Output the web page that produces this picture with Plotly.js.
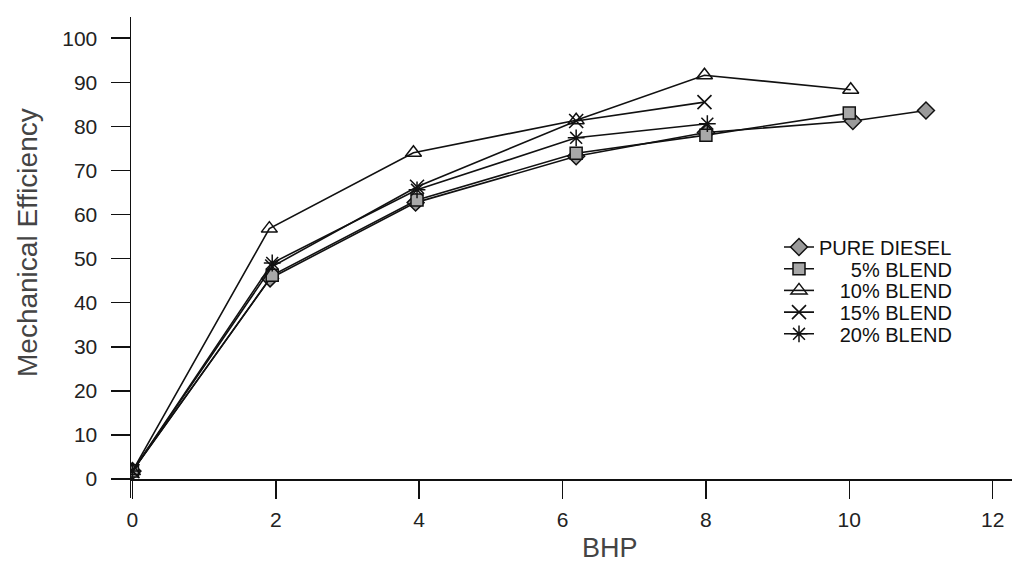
<!DOCTYPE html>
<html>
<head>
<meta charset="utf-8">
<script src="https://cdn.plot.ly/plotly-3.0.1.min.js"></script>
<style>
html,body{margin:0;padding:0;background:#fff;}
#chart{width:1016px;height:564px;}
</style>
</head>
<body>
<div id="chart"></div>
<script>
// ---- data ----
const seriesNames = ["PURE DIESEL", "5% BLEND", "10% BLEND", "15% BLEND", "20% BLEND"];
const legendLabels = ["PURE DIESEL",
  "\u00a0\u00a0\u00a0\u00a0\u00a0\u20095% BLEND",
  "\u00a0\u00a0\u00a0\u200910% BLEND",
  "\u00a0\u00a0\u00a0\u200915% BLEND",
  "\u00a0\u00a0\u00a0\u200920% BLEND"];

const bhpDiesel = [0, 1.92, 3.95, 6.19, 8.0, 10.05, 11.07];
const effDiesel = [1.8, 45.5, 62.7, 73.2, 78.6, 81.2, 83.6];

const bhp5 = [0, 1.95, 3.97, 6.19, 8.0, 10.0];
const eff5 = [1.8, 46.2, 63.3, 73.9, 78.0, 83.0];

const bhp10 = [0, 1.91, 3.92, 6.19, 7.98, 10.02];
const eff10 = [1.8, 56.8, 74.0, 81.4, 91.6, 88.3];

const bhp15 = [0, 1.95, 3.97, 6.19, 7.98];
const eff15 = [1.8, 48.2, 66.3, 81.2, 85.5];

const bhp20 = [0, 1.95, 3.97, 6.19, 8.02];
const eff20 = [1.8, 49.0, 65.6, 77.4, 80.6];

const xTicks = [0, 2, 4, 6, 8, 10, 12];
const yTicks = [0, 10, 20, 30, 40, 50, 60, 70, 80, 90, 100];

// ---- styles ----
const xs = [bhpDiesel, bhp5, bhp10, bhp15, bhp20];
const ys = [effDiesel, eff5, eff10, eff15, eff20];
const markers = [
  {symbol: 'diamond', size: 13, color: '#9a9a9a', line: {color: '#111', width: 1.5}},
  {symbol: 'square', size: 12, color: '#a8a8a8', line: {color: '#111', width: 1.5}},
  {symbol: 'triangle-up-open', size: 14, color: '#111', line: {color: '#111', width: 1.5}},
  {symbol: 'x-thin-open', size: 14, color: '#111', line: {color: '#111', width: 1.6}},
  {symbol: 'asterisk-open', size: 14, color: '#111', line: {color: '#111', width: 1.5}}
];
const legendIds = ['legend', 'legend2', 'legend3', 'legend4', 'legend5'];

const traces = seriesNames.map((n, i) => ({
  x: xs[i], y: ys[i],
  name: legendLabels[i],
  type: 'scatter', mode: 'lines+markers',
  line: {color: '#111', width: 1.6},
  marker: markers[i],
  legend: legendIds[i]
}));

const plotTop = 17, plotBottom = 498, plotLeft = 131, plotRight = 1012;
const rowY = [247, 268.7, 290.4, 312.1, 333.8];
const layout = {
  width: 1016, height: 564,
  margin: {l: plotLeft, r: 1016 - plotRight, t: plotTop, b: 564 - plotBottom},
  paper_bgcolor: '#fff', plot_bgcolor: '#fff',
  font: {family: 'Liberation Sans, Arial, sans-serif', color: '#222'},
  showlegend: true,
  xaxis: {
    range: [-0.02, 12.27],
    tickvals: xTicks, ticktext: xTicks.map(String),
    ticks: 'outside', ticklen: 18, tickwidth: 1.5, tickcolor: '#111',
    showline: true, linecolor: '#111', linewidth: 1.5,
    showgrid: false, zeroline: false,
    anchor: 'free', position: 4.3 / 109.1,
    tickfont: {size: 21, color: '#222'},
    ticklabelstandoff: 3
  },
  yaxis: {
    range: [-4.3, 104.8],
    tickvals: yTicks, ticktext: yTicks.map(String),
    ticks: 'outside', ticklen: 19, tickwidth: 1.5, tickcolor: '#111',
    showline: true, linecolor: '#111', linewidth: 1.5,
    showgrid: false, zeroline: false,
    tickfont: {size: 21, color: '#222'},
    ticklabelstandoff: 9
  },
  annotations: [
    {text: 'Mechanical Efficiency', xref: 'paper', yref: 'paper',
     x: (27 - plotLeft) / (plotRight - plotLeft), y: (plotBottom - 243) / (plotBottom - plotTop),
     xanchor: 'center', yanchor: 'middle', textangle: -90, showarrow: false,
     font: {size: 28, color: '#444'}},
    {text: 'BHP', xref: 'paper', yref: 'paper',
     x: (610 - plotLeft) / (plotRight - plotLeft), y: (plotBottom - 531) / (plotBottom - plotTop),
     xanchor: 'center', yanchor: 'top', showarrow: false,
     font: {size: 27, color: '#444'}}
  ]
};
legendIds.forEach((id, i) => {
  layout[id] = {
    x: (779 - plotLeft) / (plotRight - plotLeft),
    y: (plotBottom - rowY[i]) / (plotBottom - plotTop),
    xanchor: 'left', yanchor: 'middle',
    bgcolor: 'rgba(0,0,0,0)', borderwidth: 0,
    font: {size: 20, color: '#111'},
    itemwidth: 30
  };
});

Plotly.newPlot('chart', traces, layout, {displayModeBar: false, staticPlot: true});
</script>
</body>
</html>
